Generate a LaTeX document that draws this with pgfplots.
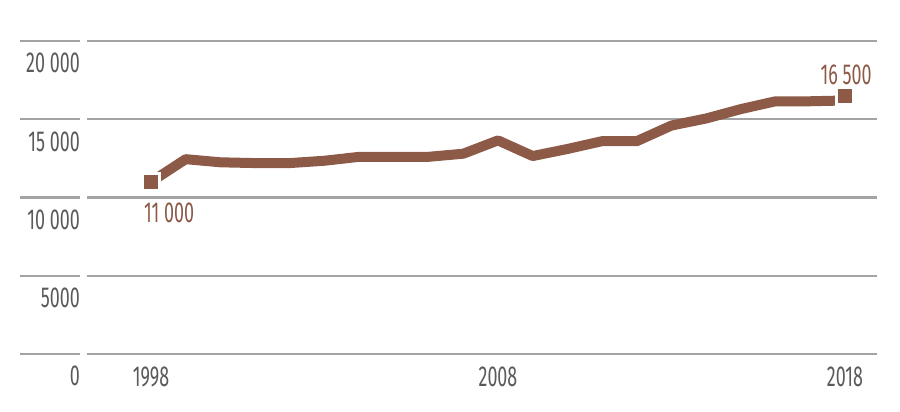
\documentclass[border=0pt]{standalone}
\usepackage{fontspec}
\setmainfont{Fira Sans}[FakeStretch=0.62]
\usepackage{pgfplots}
\pgfplotsset{compat=1.18}
\definecolor{brn}{HTML}{8C5A46}
\definecolor{grd}{HTML}{A3A3A3}
\definecolor{txt}{HTML}{5A5A5A}
\newcommand{\lbl}{\fontsize{29}{30}\selectfont}
\begin{document}
\begin{tikzpicture}
\begin{axis}[
  scale only axis,
  width=790bp, height=313bp,
  xmin=1996.156, xmax=2018.922,
  ymin=0, ymax=20000,
  clip=false,
  scaled y ticks=false,
  scaled x ticks=false,
  axis line style={draw=none},
  tick style={draw=none},
  ymajorgrids,
  grid style={grd, line width=2.2bp},
  ytick={0,5000,10000,15000,20000},
  yticklabels={0,5000,10 000,15 000,20 000},
  xtick={1998,2008,2018},
  xticklabels={1998,2008,2018},
  yticklabel style={anchor=north east, inner sep=0pt, xshift=-7bp, yshift=-12bp, font=\lbl, text=txt},
  xticklabel style={anchor=north, inner sep=0pt, yshift=-13bp, font=\lbl, text=txt},
]
\pgfplotsinvokeforeach{0,5000,10000,15000,20000}{
  \draw[grd, line width=2.2bp] (axis cs:1994.22,#1) -- (axis cs:1995.95,#1);
}
\addplot[brn, line width=10bp, line join=round, no marks] coordinates {
  (1998,11000) (1999,12450) (2000,12250) (2001,12200) (2002,12200)
  (2003,12350) (2004,12600) (2005,12600) (2006,12600) (2007,12800)
  (2008,13650) (2009,12650) (2010,13100) (2011,13600) (2012,13600)
  (2013,14600) (2014,15050) (2015,15650) (2016,16150) (2017,16150)
  (2018,16200)
};
\addplot[only marks, mark=square*, mark size=8.5bp,
  mark options={fill=brn, draw=white, line width=3bp}] coordinates {
  (1998,11000) (2018,16500)
};
\node[anchor=north, inner sep=0pt, text=brn, font=\lbl] at (axis cs:1998.52,9650) {11 000};
\node[anchor=south, inner sep=0pt, text=brn, font=\lbl] at (axis cs:2018.03,17190) {16 500};
\coordinate (bl) at (axis cs:1993.649,-3642);
\coordinate (tr) at (axis cs:2019.585,22621);
\end{axis}
\pgfresetboundingbox
\useasboundingbox (bl) rectangle (tr);
\end{tikzpicture}
\end{document}
